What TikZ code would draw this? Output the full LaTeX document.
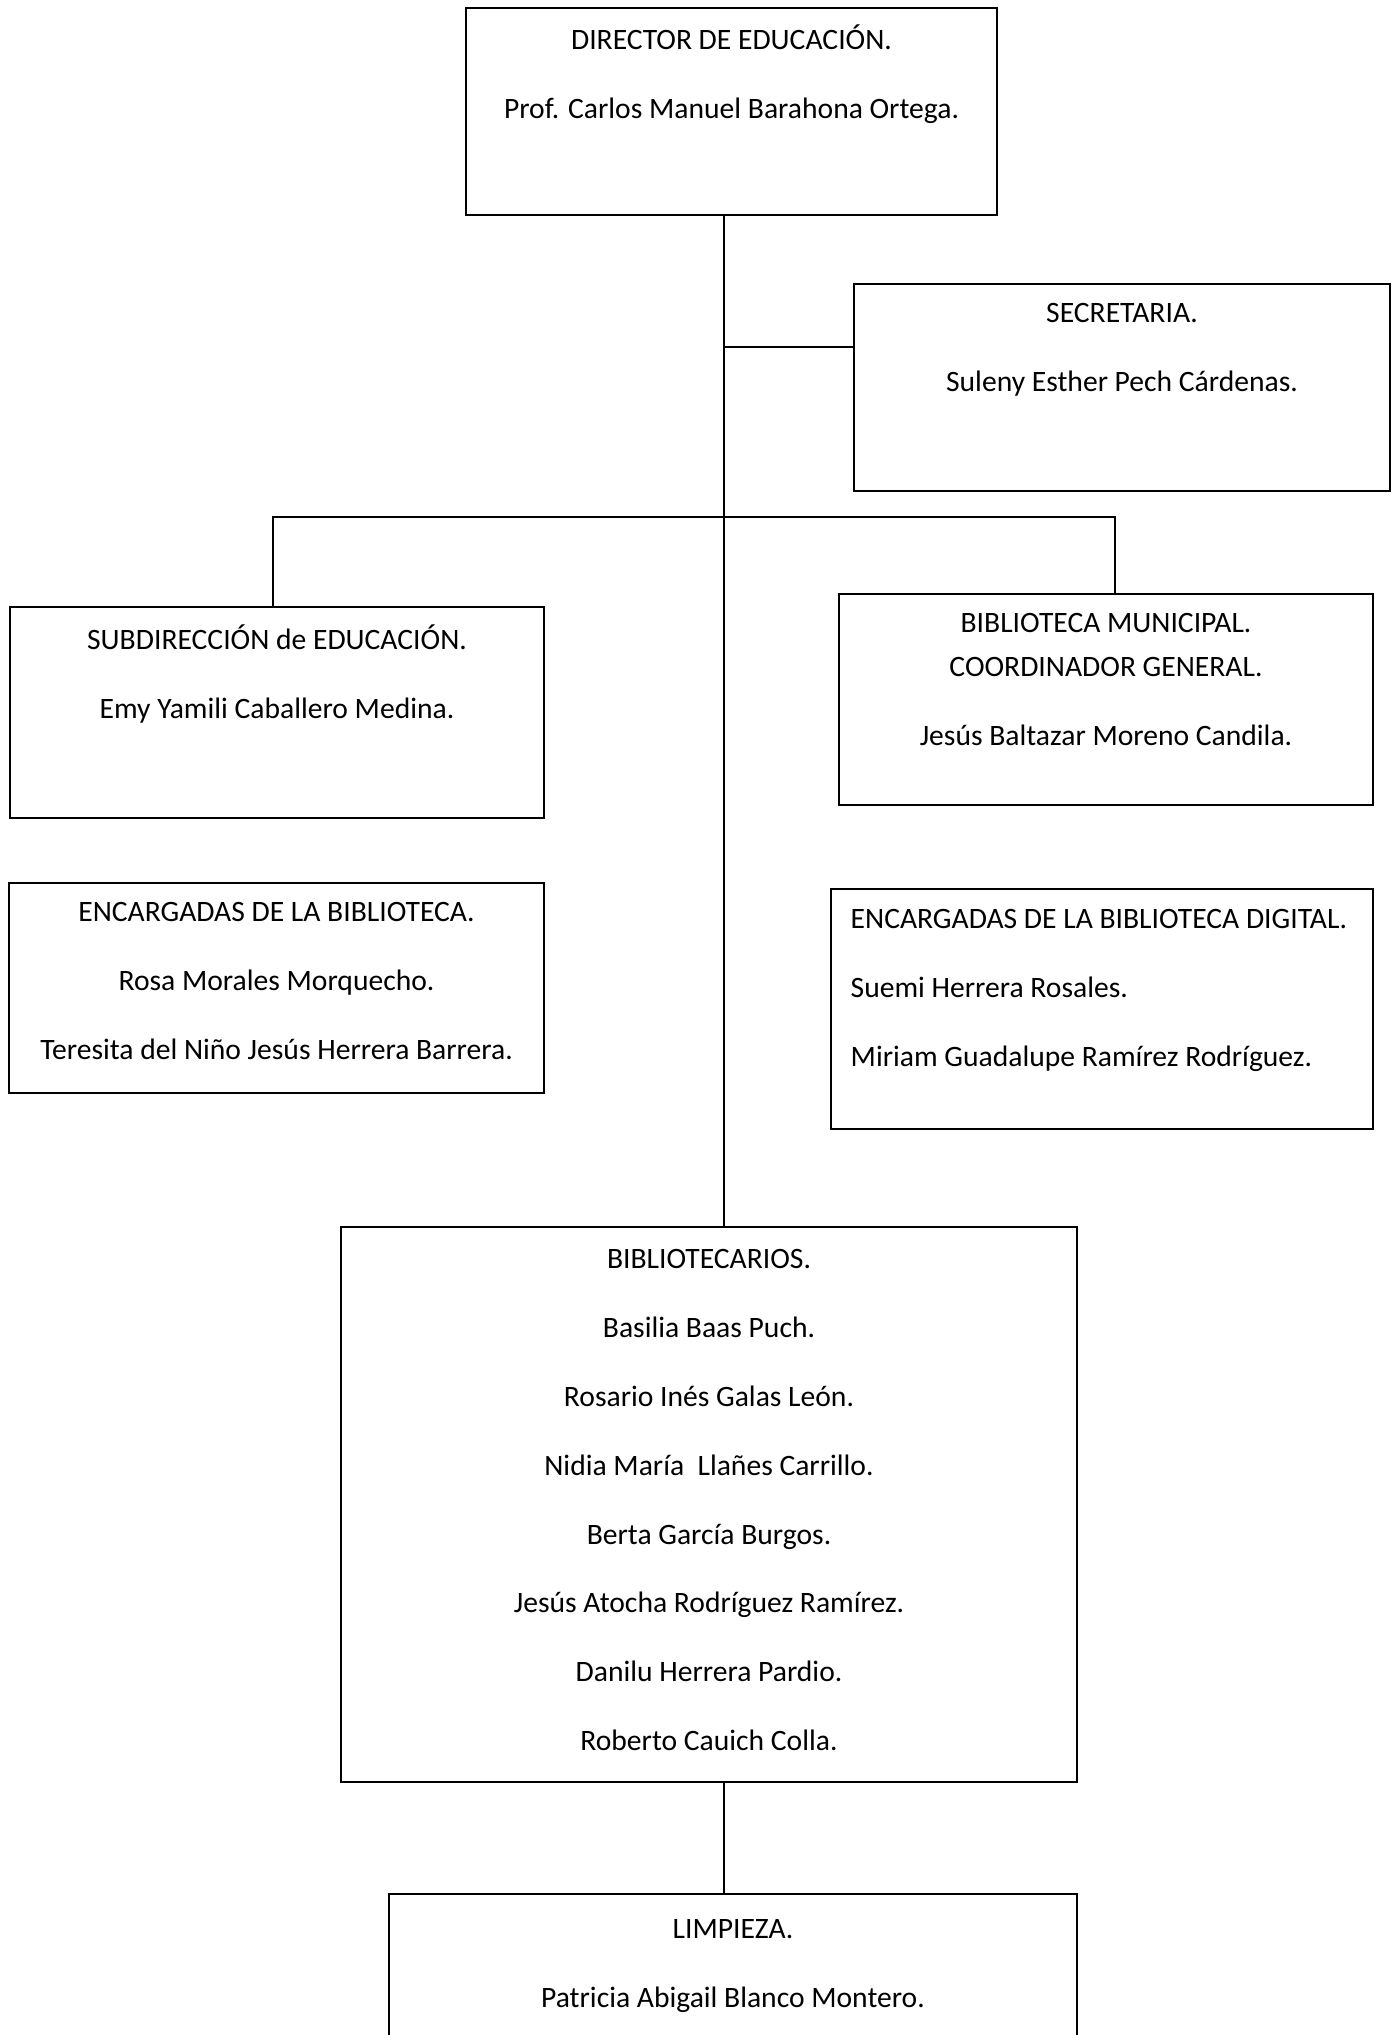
\documentclass[tikz,border=0pt]{standalone}
\usepackage{fontspec}
\setmainfont{Carlito}
\usetikzlibrary{positioning,fit}

\begin{document}
\begin{tikzpicture}[x=0.5pt, y=-0.5pt, line width=0.8pt,
  box/.style={draw, line width=1.1pt, inner sep=0pt},
  txt/.style={align=center, inner sep=0pt, font=\fontsize{14.8}{34.4}\selectfont,
    execute at begin node={\rule{0pt}{12pt}}}]
\useasboundingbox (0,0) rectangle (1398,2035);
\clip (0,0) rectangle (1398,2035);
% boxes
\node (dir)  [box, fit={(466,8) (997,215)}] {};
\node (sec)  [box, fit={(854,284) (1390,491)}] {};
\node (sub)  [box, fit={(10,607) (544,818)}] {};
\node (bm)   [box, fit={(839,594) (1373,805)}] {};
\node (encb) [box, fit={(9,883) (544,1093)}] {};
\node (digi) [box, fit={(831,889) (1373,1129)}] {};
\node (bib)  [box, fit={(341,1227) (1077,1782)}] {};
\node (limp) [box, fit={(389,1894) (1077,2060)}] {};
% texts
\node (dirT)  [txt, below=8.5pt of dir.north] {DIRECTOR DE EDUCACIÓN.\\Prof. Carlos Manuel Barahona Ortega.};
\node (secT)  [txt, below=10pt of sec.north] {SECRETARIA.\\Suleny Esther Pech Cárdenas.};
\node (subT)  [txt, below=9pt of sub.north] {SUBDIRECCIÓN de EDUCACIÓN.\\Emy Yamili Caballero Medina.};
\node (bmT)   [txt, below=10pt of bm.north] {BIBLIOTECA MUNICIPAL.\\[-12.4pt]COORDINADOR GENERAL.\\Jesús Baltazar Moreno Candila.};
\node (encbT) [txt, below=10pt of encb.north] {ENCARGADAS DE LA BIBLIOTECA.\\Rosa Morales Morquecho.\\Teresita del Niño Jesús Herrera Barrera.};
\node (digiT) [txt, align=left, anchor=north west] at ([xshift=10pt,yshift=-10.5pt]digi.north west) {ENCARGADAS DE LA BIBLIOTECA DIGITAL.\\Suemi Herrera Rosales.\\Miriam Guadalupe Ramírez Rodríguez.};
\node (bibT)  [txt, below=11.5pt of bib.north] {BIBLIOTECARIOS.\\Basilia Baas Puch.\\Rosario Inés Galas León.\\Nidia María\ \ Llañes Carrillo.\\Berta García Burgos.\\Jesús Atocha Rodríguez Ramírez.\\Danilu Herrera Pardio.\\Roberto Cauich Colla.};
\node (limpT) [txt, below=13pt of limp.north] {LIMPIEZA.\\Patricia Abigail Blanco Montero.};
% connectors
\coordinate (trunk) at (724,517);
\coordinate (secj) at (724,347);
\coordinate (barL) at (273,517);
\coordinate (barR) at (1115,517);
\draw (dir.south -| trunk) -- (trunk);
\draw (secj) -- (secj -| sec.west);
\draw (barL |- sub.north) -- (barL) -- (barR) -- (barR |- bm.north);
\draw (trunk) -- (trunk |- bib.north);
\draw (bib.south -| trunk) -- (limp.north -| trunk);
\end{tikzpicture}
\end{document}
